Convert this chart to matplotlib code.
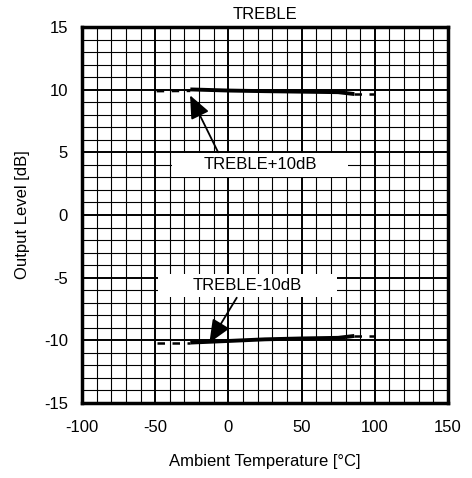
import matplotlib
matplotlib.use("Agg")
import matplotlib.pyplot as plt
import numpy as np

plt.rcParams['font.family'] = ['Liberation Sans', 'DejaVu Sans']
plt.rcParams['axes.unicode_minus'] = False

# Data
plus_solid_x = [-26, 0, 25, 50, 75, 86]
plus_solid_y = [10.02, 9.93, 9.88, 9.84, 9.80, 9.65]
plus_dash_left_x = [-49, -26]
plus_dash_left_y = [9.88, 9.90]
plus_dash_right_x = [86, 100]
plus_dash_right_y = [9.65, 9.65]

minus_solid_x = [-26, 0, 25, 50, 75, 86]
minus_solid_y = [-10.18, -10.05, -9.92, -9.85, -9.80, -9.65]
minus_dash_left_x = [-49, -26]
minus_dash_left_y = [-10.18, -10.18]
minus_dash_right_x = [86, 100]
minus_dash_right_y = [-9.68, -9.68]

x_ticks = [-100, -50, 0, 50, 100, 150]
y_ticks = [-15, -10, -5, 0, 5, 10, 15]

fig = plt.figure(figsize=(4.72, 4.78), dpi=100)
ax = fig.add_axes([82/472, 1-403/478, 366/472, 376/478])
ax.set_xlim(-100, 150)
ax.set_ylim(-15, 15)

# grid
for xv in np.arange(-100, 151, 10):
    lw = 1.4 if xv % 50 == 0 else 0.8
    ax.axvline(xv, color='black', lw=lw, zorder=1)
for yv in np.arange(-15, 16, 1):
    lw = 1.4 if yv % 5 == 0 else 0.8
    ax.axhline(yv, color='black', lw=lw, zorder=1)

for s in ax.spines.values():
    s.set_linewidth(2.5)
    s.set_zorder(5)

ax.set_xticks(x_ticks)
ax.set_yticks(y_ticks)
ax.tick_params(length=0, labelsize=12)
ax.tick_params(axis='x', pad=12)
ax.tick_params(axis='y', pad=10)

ax.plot(plus_solid_x, plus_solid_y, color='black', lw=2.8, zorder=3, solid_capstyle='butt')
ax.plot(plus_dash_left_x, plus_dash_left_y, color='black', lw=1.8, ls=(0, (3, 3)), zorder=3)
ax.plot(plus_dash_right_x, plus_dash_right_y, color='black', lw=1.8, ls=(0, (3, 3)), zorder=3)
ax.plot(minus_solid_x, minus_solid_y, color='black', lw=2.8, zorder=3, solid_capstyle='butt')
ax.plot(minus_dash_left_x, minus_dash_left_y, color='black', lw=1.8, ls=(0, (3, 3)), zorder=3)
ax.plot(minus_dash_right_x, minus_dash_right_y, color='black', lw=1.8, ls=(0, (3, 3)), zorder=3)

# label boxes
ax.add_patch(plt.Rectangle((-38.8, 3.05), 120.5, 1.9, facecolor='white', edgecolor='none', zorder=2))
ax.add_patch(plt.Rectangle((-47.9, -6.55), 121.9, 1.85, facecolor='white', edgecolor='none', zorder=2))
ax.text(21.5, 4.0, 'TREBLE+10dB', ha='center', va='center', fontsize=12, zorder=4)
ax.text(13, -5.6, 'TREBLE-10dB', ha='center', va='center', fontsize=12, zorder=4)

arrowprops = dict(arrowstyle='-|>,head_length=1.4,head_width=0.6', color='black', lw=1.3, shrinkA=0, shrinkB=0)
ax.annotate('', xy=(-26.2, 9.55), xytext=(-7, 5.0), arrowprops=arrowprops, zorder=4)
ax.annotate('', xy=(-13, -10.2), xytext=(5.7, -6.6), arrowprops=arrowprops, zorder=4)

ax.set_title('TREBLE', fontsize=12, pad=6)
ax.set_xlabel('Ambient Temperature [°C]', fontsize=12, labelpad=14)
ax.set_ylabel('Output Level [dB]', fontsize=12, labelpad=10)

fig.savefig('out.png', dpi=100)
